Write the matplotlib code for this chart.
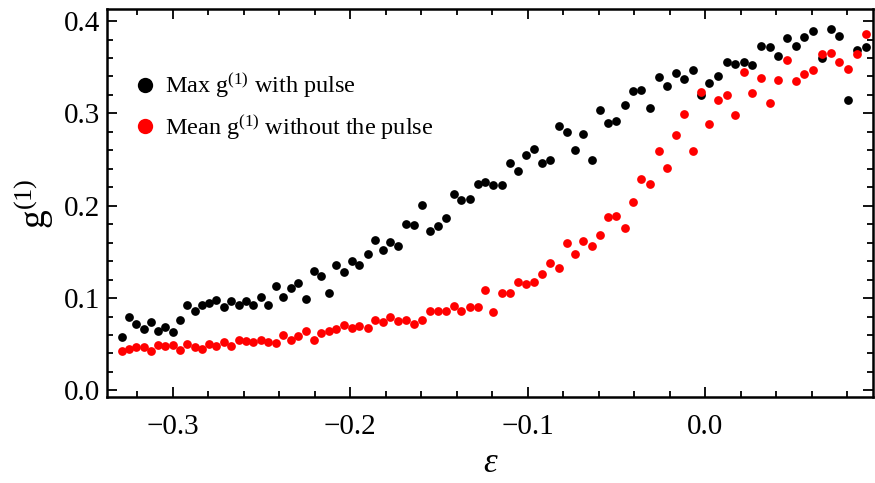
import matplotlib
matplotlib.use("Agg")
import matplotlib.pyplot as plt
from matplotlib.ticker import MultipleLocator, FuncFormatter

plt.rcParams['font.family'] = ['Liberation Serif', 'DejaVu Serif']
plt.rcParams['mathtext.fontset'] = 'custom'
plt.rcParams['mathtext.rm'] = 'Liberation Serif'
plt.rcParams['mathtext.it'] = 'Liberation Serif:italic'

# detuning values
eps = [-0.3284, -0.3246, -0.3205, -0.3163, -0.3124, -0.3083, -0.3042, -0.3000, -0.2961, -0.2919,
       -0.2876, -0.2835, -0.2794, -0.2754, -0.2713, -0.2670, -0.2626, -0.2589, -0.2546, -0.2504,
       -0.2463, -0.2420, -0.2379, -0.2335, -0.2292, -0.2249, -0.2204, -0.2165, -0.2121, -0.2080,
       -0.2035, -0.1991, -0.1948, -0.1901, -0.1861, -0.1817, -0.1773, -0.1729, -0.1684, -0.1641,
       -0.1597, -0.1552, -0.1506, -0.1461, -0.1417, -0.1374, -0.1326, -0.1282, -0.1238, -0.1193,
       -0.1146, -0.1101, -0.1056, -0.1010, -0.0965, -0.0918, -0.0873, -0.0825, -0.0780, -0.0734,
       -0.0687, -0.0639, -0.0593, -0.0546, -0.0500, -0.0451, -0.0406, -0.0359, -0.0311, -0.0263,
       -0.0215, -0.0167, -0.0119, -0.0070, -0.0024, 0.0024, 0.0073, 0.0121, 0.0169, 0.0217,
       0.0264, 0.0313, 0.0363, 0.0412, 0.0461, 0.0510, 0.0559, 0.0609, 0.0660, 0.0708,
       0.0755, 0.0807, 0.0855, 0.0906]

g1_max = [0.0575, 0.0792, 0.0724, 0.0665, 0.0741, 0.0643, 0.0687, 0.0632, 0.0762, 0.0922,
          0.0860, 0.0930, 0.0946, 0.0979, 0.0901, 0.0963, 0.0930, 0.0973, 0.0928, 0.1015,
          0.0928, 0.1128, 0.1014, 0.1109, 0.1161, 0.0988, 0.1293, 0.1236, 0.1060, 0.1358,
          0.1277, 0.1401, 0.1360, 0.1477, 0.1625, 0.1520, 0.1612, 0.1567, 0.1799, 0.1789,
          0.2004, 0.1728, 0.1783, 0.1869, 0.2132, 0.2067, 0.2075, 0.2238, 0.2253, 0.2219,
          0.2223, 0.2466, 0.2379, 0.2544, 0.2609, 0.2466, 0.2495, 0.2860, 0.2796, 0.2600,
          0.2773, 0.2495, 0.3034, 0.2892, 0.2920, 0.3090, 0.3239, 0.3255, 0.3055, 0.3390,
          0.3296, 0.3434, 0.3374, 0.3475, 0.3195, 0.3332, 0.3404, 0.3553, 0.3540, 0.3553,
          0.3524, 0.3732, 0.3724, 0.3618, 0.3816, 0.3733, 0.3824, 0.3894, 0.3599, 0.3916,
          0.3838, 0.3145, 0.3684, 0.3716]

g1_mean = [0.0430, 0.0452, 0.0470, 0.0468, 0.0427, 0.0488, 0.0484, 0.0488, 0.0441, 0.0502,
           0.0473, 0.0446, 0.0499, 0.0483, 0.0519, 0.0481, 0.0549, 0.0537, 0.0526, 0.0543,
           0.0519, 0.0515, 0.0602, 0.0548, 0.0589, 0.0640, 0.0548, 0.0624, 0.0638, 0.0663,
           0.0710, 0.0672, 0.0700, 0.0679, 0.0764, 0.0737, 0.0795, 0.0751, 0.0762, 0.0724,
           0.0759, 0.0858, 0.0863, 0.0863, 0.0916, 0.0863, 0.0908, 0.0903, 0.1084, 0.0849,
           0.1051, 0.1051, 0.1171, 0.1149, 0.1176, 0.1264, 0.1383, 0.1328, 0.1593, 0.1472,
           0.1620, 0.1564, 0.1683, 0.1883, 0.1888, 0.1762, 0.2040, 0.2287, 0.2232, 0.2594,
           0.2410, 0.2763, 0.2996, 0.2594, 0.3233, 0.2890, 0.3147, 0.3197, 0.2984, 0.3451,
           0.3226, 0.3382, 0.3112, 0.3361, 0.3581, 0.3354, 0.3426, 0.3469, 0.3639, 0.3651,
           0.3559, 0.3482, 0.3646, 0.3859]

fig = plt.figure(figsize=(8.75, 4.83), dpi=100)
ax = fig.add_axes([0.1226, 0.1774, 0.8751, 0.8033])

ax.plot(eps, g1_max, 'o', color='black', ms=6.3, mec='none', label='Max g$^{(1)}$ with pulse')
ax.plot(eps, g1_mean, 'o', color='red', ms=6.3, mec='none', label='Mean g$^{(1)}$ without the pulse')

ax.set_xlim(-0.3368, 0.0945)
ax.set_ylim(-0.0075, 0.4127)

ax.xaxis.set_major_locator(MultipleLocator(0.1))
ax.xaxis.set_minor_locator(MultipleLocator(0.02))
ax.yaxis.set_major_locator(MultipleLocator(0.1))
ax.yaxis.set_minor_locator(MultipleLocator(0.02))
fmt = FuncFormatter(lambda v, p: ('%.1f' % v).replace('-', '\u2212') if abs(v) > 1e-9 else '0.0')
ax.xaxis.set_major_formatter(fmt)
ax.yaxis.set_major_formatter(fmt)
ax.tick_params(which='both', direction='in', top=True, right=True, labelsize=21, width=1.3)
ax.tick_params(which='major', length=7)
ax.tick_params(which='minor', length=4)
ax.tick_params(axis='x', which='major', pad=12)
ax.tick_params(axis='y', which='major', pad=5)
for s in ax.spines.values():
    s.set_linewidth(1.8)

ax.set_xlabel('ε', fontstyle='italic', fontsize=25, labelpad=5)
ax.set_ylabel('g$^{(1)}$', fontsize=27, labelpad=6)

ax.legend(loc='upper left', bbox_to_anchor=(0.021, 0.865), frameon=False, fontsize=17.5,
          handlelength=1.0, handletextpad=0.32, labelspacing=0.55, markerscale=1.75,
          borderaxespad=0)

fig.savefig('out.png', dpi=100)
